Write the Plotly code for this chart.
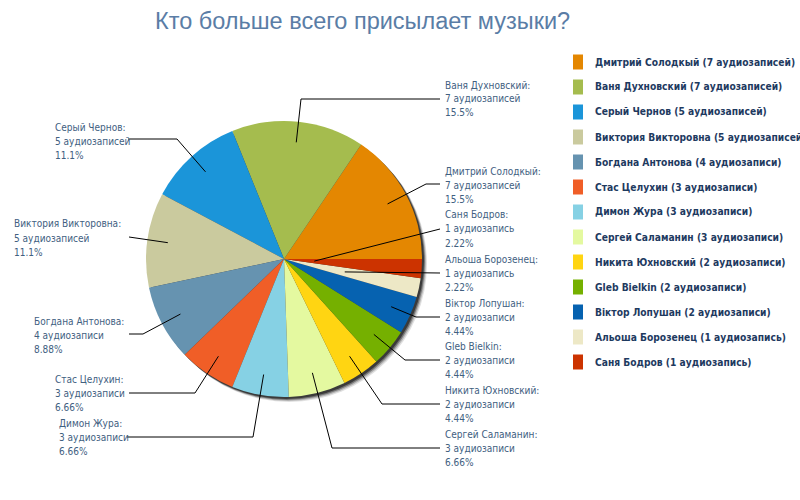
import math
import plotly.graph_objects as go

# ---------------- data ----------------
names = ["Дмитрий Солодкый", "Ваня Духновский", "Серый Чернов", "Виктория Викторовна",
         "Богдана Антонова", "Стас Целухин", "Димон Жура", "Сергей Саламанин",
         "Никита Юхновский", "Gleb Bielkin", "Віктор Лопушан", "Альоша Борозенец",
         "Саня Бодров"]
counts = [7, 7, 5, 5, 4, 3, 3, 3, 2, 2, 2, 1, 1]
colors = ["#E48701", "#A5BC4E", "#1B95D9", "#CACA9E", "#6693B0", "#F05E27", "#86D1E4",
          "#E4F9A0", "#FFD512", "#75B000", "#0662B0", "#EDE8C6", "#CC3300"]
title_text = "Кто больше всего присылает музыки?"

# ---------------- layout constants (pixels) ----------------
W, H = 800, 500
CX, CY, R = 284, 259, 138
inner_frac = [0.85, 0.85, 0.85, 0.85, 0.85, 0.85, 0.85, 0.85, 0.85, 0.85, 0.85, 0.45, 0.22]
elbows = [(426, 184), (301, 99), (177, 139), None, (143, 334), (195, 393), (253, 437),
          (332, 448), (382, 404), (405, 360), (416, 317), None, None]
ends = [(440, 184), (440, 99), (128, 139), (129, 237), (129, 334), (129, 393), (127, 437),
        (440, 448), (440, 404), (440, 360), (440, 317), (440, 273), (440, 229)]
label_x = [443, 443, 53, 12, 32, 53, 57, 443, 443, 443, 443, 443, 443]
label_y = [185, 99, 141, 238, 335, 393, 437, 448, 404, 360, 317, 273, 229]
LINE_GAP = 14

LABEL_FONT = "DejaVu Sans Condensed, DejaVu Sans"


def px(x):
    return x / W


def py(y):
    return 1 - y / H


def unit(n):
    if n % 10 == 1 and n % 100 != 11:
        return "аудиозапись"
    if 2 <= n % 10 <= 4 and not (12 <= n % 100 <= 14):
        return "аудиозаписи"
    return "аудиозаписей"


def trunc3(v):
    d = 3 - int(math.floor(math.log10(abs(v)))) - 1
    f = 10 ** d
    val = math.floor(v * f + 1e-9) / f
    return ("{:." + str(max(d, 0)) + "f}").format(val)


total = sum(counts)

fig = go.Figure()

shapes = []
for off, op in [(5, 0.12), (4, 0.2), (3, 0.35), (2, 0.5)]:
    shapes.append(dict(type="circle", xref="paper", yref="paper", layer="below",
                       x0=px(CX - R + off), x1=px(CX + R + off),
                       y0=py(CY + R + off), y1=py(CY - R + off),
                       fillcolor="black", opacity=op, line=dict(width=0)))

# plotly places the first slice clockwise of `rotation` when counterclockwise,
# so shift so that the first slice starts at 3 o'clock
rotation = 90 - counts[0] / total * 360

fig.add_trace(go.Pie(
    labels=names, values=counts, sort=False, direction="counterclockwise", rotation=rotation,
    marker=dict(colors=colors, line=dict(width=0)),
    textinfo="none", hoverinfo="label+value+percent", showlegend=False,
    domain=dict(x=[px(CX - R), px(CX + R)], y=[py(CY + R), py(CY - R)]),
))

annotations = [dict(text=title_text, x=px(362), y=py(21), xref="paper", yref="paper",
                    xanchor="center", yanchor="middle", showarrow=False,
                    font=dict(family="Liberation Sans", size=23.5, color="#5A7DA6"))]

cum = 0
for i, (n, c) in enumerate(zip(names, counts)):
    mid = (cum + c / 2) / total * 360.0
    cum += c
    a = math.radians(mid)
    ix = CX + inner_frac[i] * R * math.cos(a)
    iy = CY - inner_frac[i] * R * math.sin(a)
    pts = [(ix, iy)]
    if elbows[i] is not None:
        pts.append(elbows[i])
    pts.append(ends[i])
    path = "M " + " L ".join(f"{px(x):.5f},{py(y):.5f}" for x, y in pts)
    shapes.append(dict(type="path", path=path, xref="paper", yref="paper",
                       line=dict(color="black", width=1)))
    lines = [f"{n}:", f"{c} {unit(c)}", f"{trunc3(c / total * 100)}%"]
    for k, t in enumerate(lines):
        annotations.append(dict(text=t, x=px(label_x[i]), y=py(label_y[i] + (k - 1) * LINE_GAP),
                                xref="paper", yref="paper",
                                xanchor="left", yanchor="middle", showarrow=False,
                                font=dict(family=LABEL_FONT, size=10, color="#41607F")))

for i, (n, c) in enumerate(zip(names, counts)):
    yc = 62 + 25 * i
    shapes.append(dict(type="rect", xref="paper", yref="paper",
                       x0=px(573), x1=px(583), y0=py(yc + 7.5), y1=py(yc - 7.5),
                       fillcolor=colors[i], line=dict(width=0)))
    annotations.append(dict(text=f"<b>{n} ({c} {unit(c)})</b>", x=px(593), y=py(yc),
                            xref="paper", yref="paper", xanchor="left", yanchor="middle",
                            showarrow=False,
                            font=dict(family=LABEL_FONT, size=10.2, color="#1E3A5F")))

fig.update_layout(width=W, height=H, margin=dict(l=0, r=0, t=0, b=0),
                  paper_bgcolor="white", plot_bgcolor="white",
                  shapes=shapes, annotations=annotations)

fig.write_html("out.html")
